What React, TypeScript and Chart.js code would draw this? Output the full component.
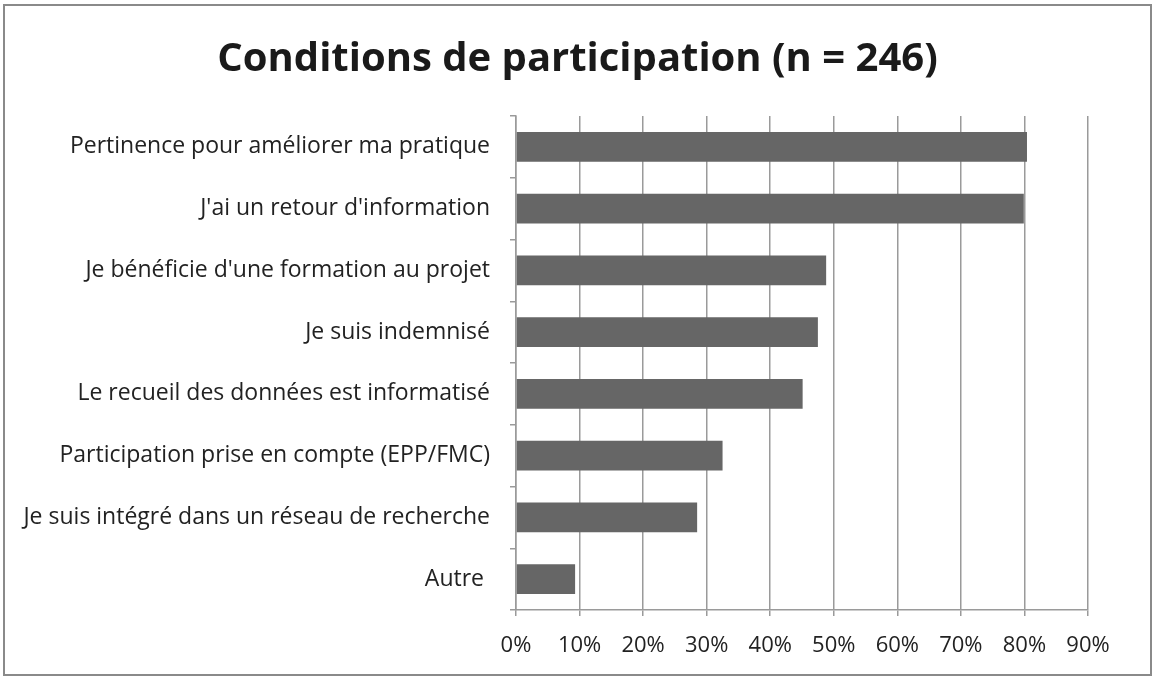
import React, { useEffect, useRef } from "react";
import { Chart, registerables } from "chart.js";

Chart.register(...registerables);

const titleText = "Conditions de participation (n = 246)";
const categories = [
  "Pertinence pour améliorer ma pratique",
  "J'ai un retour d'information",
  "Je bénéficie d'une formation au projet",
  "Je suis indemnisé",
  "Le recueil des données est informatisé",
  "Participation prise en compte (EPP/FMC)",
  "Je suis intégré dans un réseau de recherche",
  "Autre ",
];
const values = [80.4, 79.9, 48.8, 47.5, 45.1, 32.5, 28.5, 9.3];
const xTicks = [0, 10, 20, 30, 40, 50, 60, 70, 80, 90];

const FONT = "'Open Sans', sans-serif";

export default function App() {
  const ref = useRef<HTMLCanvasElement>(null);
  useEffect(() => {
    document.body.style.margin = "0";
    const ctx = ref.current!;
    const chart = new Chart(ctx, {
      type: "bar",
      data: {
        labels: categories,
        datasets: [
          {
            data: values,
            backgroundColor: "#666666",
            borderWidth: 0,
            barPercentage: 0.48,
            categoryPercentage: 1,
          },
        ],
      },
      options: {
        indexAxis: "y",
        animation: false,
        responsive: false,
        devicePixelRatio: 1,
        layout: { padding: 0 },
        plugins: {
          legend: { display: false },
          tooltip: { enabled: false },
          title: {
            display: true,
            text: titleText,
            color: "#1a1a1a",
            font: { family: FONT, size: 40, weight: "bold", lineHeight: 1.2 },
            padding: { top: 30, bottom: 32 },
          },
        },
        scales: {
          x: {
            min: 0,
            max: 90,
            afterBuildTicks: (s: any) => {
              s.ticks = xTicks.map((v) => ({ value: v }));
            },
            afterFit: (s: any) => {
              s.height = 64;
              s.paddingRight = 62;
            },
            ticks: {
              callback: (v: any) => v + "%",
              color: "#222",
              font: { family: FONT, size: 22 },
              padding: 17,
              maxRotation: 0,
              autoSkip: false,
            },
            grid: {
              color: "#9a9a9a",
              lineWidth: 1.5,
              tickLength: 6,
              drawOnChartArea: true,
            },
            border: { color: "#9a9a9a", width: 1.5 },
          },
          y: {
            afterFit: (s: any) => {
              s.width = 511;
            },
            ticks: {
              color: "#222",
              font: { family: FONT, size: 23 },
              padding: 20,
              autoSkip: false,
            },
            grid: {
              offset: true,
              drawOnChartArea: false,
              color: "#9a9a9a",
              lineWidth: 1.5,
              tickLength: 6,
            },
            border: { color: "#9a9a9a", width: 1.5 },
          },
        },
      },
    });
    return () => chart.destroy();
  }, []);
  return (
    <div
      style={{
        position: "absolute",
        left: 3,
        top: 4,
        width: 1149,
        height: 672,
        border: "2px solid #8a8a8a",
        boxSizing: "border-box",
        background: "#fff",
      }}
    >
      <canvas ref={ref} width={1145} height={668} style={{ display: "block" }} />
    </div>
  );
}
